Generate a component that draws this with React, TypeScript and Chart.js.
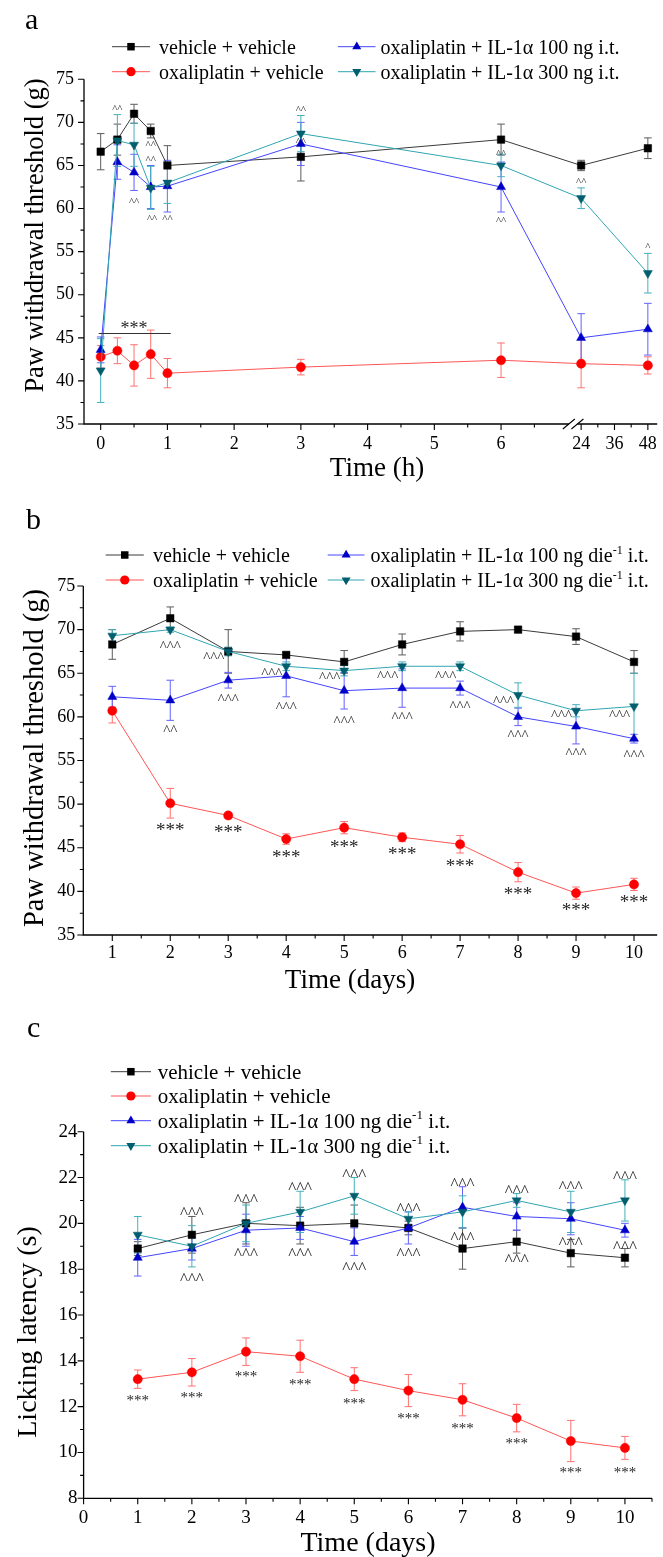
import React, { useEffect, useRef } from "react";
import { Chart, registerables } from "chart.js";

Chart.register(...registerables);

const FONT = '"Liberation Serif", "Times New Roman", Times, serif';

// ---------------- Panel a : paw withdrawal threshold vs time (h) ----------------
const hoursA = [0, 0.25, 0.5, 0.75, 1, 3, 6, 24, 48];
const vehVehA = [66.6, 68.0, 71.0, 69.0, 65.0, 66.0, 68.0, 65.0, 67.0];
const vehVehErrA = [2.1, 1.8, 1.1, 0.8, 2.3, 2.8, 1.8, 0.6, 1.2];
const oxaVehA = [42.8, 43.5, 41.8, 43.1, 40.9, 41.6, 42.4, 42.0, 41.8];
const oxaVehErrA = [1.3, 1.5, 2.4, 2.8, 1.7, 0.9, 2.0, 2.8, 1.0];
const il100A = [43.6, 65.4, 64.2, 62.5, 62.6, 67.5, 62.5, 45.0, 46.0];
const il100ErrA = [1.5, 2.0, 2.1, 2.5, 3.0, 2.5, 2.9, 2.8, 3.0];
const il300A = [41.2, 67.9, 67.4, 62.4, 63.0, 68.7, 65.0, 61.2, 52.5];
const il300ErrA = [3.7, 3.0, 2.5, 2.5, 2.4, 2.1, 1.3, 1.2, 2.3];

const xTickHoursA = [0, 1, 2, 3, 4, 5, 6, 24, 36, 48];
const xTickLabelsA = ["0", "1", "2", "3", "4", "5", "6", "24", "36", "48"];
const xMinorHoursA = [0.5, 1.5, 2.5, 3.5, 4.5, 5.5, 6.5, 30, 42];
const yTicksAB = [35, 40, 45, 50, 55, 60, 65, 70, 75];
const yMinorAB = [37.5, 42.5, 47.5, 52.5, 57.5, 62.5, 67.5, 72.5];

// annotation texts of panel a: [hour, value, text]
const annotA: [number, number, string][] = [
  [0.25, 71.8, "^^"],
  [0.75, 67.6, "^^"],
  [0.75, 65.9, "^^"],
  [0.5, 61.0, "^^"],
  [0.77, 59.1, "^^"],
  [1, 59.1, "^^"],
  [3, 71.75, "^^"],
  [3, 68.0, "^^"],
  [6, 66.6, "^^"],
  [6, 58.8, "^^"],
  [24, 63.3, "^^"],
  [48, 55.8, "^"],
];
const starsA: [number, number, string][] = [[0.5, 46.45, "***"]];
const bracketA = { from: -0.03, to: 1.05, value: 45.6 };

// ---------------- Panel b : paw withdrawal threshold vs days ----------------
const daysB = [1, 2, 3, 4, 5, 6, 7, 8, 9, 10];
const vehVehB = [68.3, 71.3, 67.5, 67.1, 66.3, 68.3, 69.8, 70.0, 69.2, 66.3];
const vehVehErrB = [1.7, 1.3, 2.5, 0.3, 1.3, 1.2, 1.1, 0.3, 0.9, 1.3];
const oxaVehB = [60.7, 50.1, 48.7, 46.0, 47.3, 46.2, 45.4, 42.2, 39.8, 40.8];
const oxaVehErrB = [1.4, 1.7, 0.3, 0.6, 0.7, 0.5, 1.0, 1.1, 0.7, 0.7];
const il100B = [62.3, 61.9, 64.2, 64.7, 63.0, 63.3, 63.3, 60.0, 58.9, 57.5];
const il100ErrB = [1.2, 2.3, 0.9, 2.4, 2.1, 2.2, 0.8, 1.0, 2.0, 0.5];
const il300B = [69.3, 70.0, 67.5, 65.8, 65.3, 65.8, 65.8, 62.5, 60.7, 61.2];
const il300ErrB = [0.7, 0.3, 0.5, 0.5, 0.6, 0.5, 0.5, 1.4, 0.7, 3.8];

const xTicksB = [1, 2, 3, 4, 5, 6, 7, 8, 9, 10];
const xMinorB = [1.5, 2.5, 3.5, 4.5, 5.5, 6.5, 7.5, 8.5, 9.5];

const annotB: [number, number, string][] = [
  [2, 68.35, "^^^"],
  [2.75, 67.09, "^^^"],
  [3.75, 65.29, "^^^"],
  [4.75, 64.79, "^^^"],
  [5.75, 64.98, "^^^"],
  [6.75, 64.98, "^^^"],
  [7.75, 62.12, "^^^"],
  [8.75, 60.47, "^^^"],
  [9.75, 60.47, "^^^"],
  [2, 58.8, "^^"],
  [3, 62.31, "^^^"],
  [4, 61.35, "^^^"],
  [5, 59.83, "^^^"],
  [6, 60.21, "^^^"],
  [7, 61.47, "^^^"],
  [8, 58.18, "^^^"],
  [9, 56.08, "^^^"],
  [10, 55.93, "^^^"],
];
const starsB: [number, number, string][] = [
  [2, 47.4, "***"],
  [3, 47.21, "***"],
  [4, 44.35, "***"],
  [5, 45.49, "***"],
  [6, 44.61, "***"],
  [7, 43.27, "***"],
  [8, 40.06, "***"],
  [9, 38.22, "***"],
  [10, 39.19, "***"],
];

// ---------------- Panel c : licking latency vs days ----------------
const daysC = [1, 2, 3, 4, 5, 6, 7, 8, 9, 10];
const vehVehC = [18.9, 19.5, 20.0, 19.9, 20.0, 19.8, 18.9, 19.2, 18.7, 18.5];
const vehVehErrC = [0.3, 0.8, 0.9, 0.8, 0.8, 0.3, 0.9, 0.5, 0.6, 0.4];
const oxaVehC = [13.2, 13.5, 14.4, 14.2, 13.2, 12.7, 12.3, 11.5, 10.5, 10.2];
const oxaVehErrC = [0.4, 0.6, 0.6, 0.7, 0.5, 0.7, 0.7, 0.6, 0.9, 0.5];
const il100C = [18.5, 18.9, 19.7, 19.8, 19.2, 19.8, 20.7, 20.3, 20.2, 19.7];
const il100ErrC = [0.8, 0.5, 0.7, 0.5, 0.6, 0.7, 0.9, 0.6, 0.7, 0.3];
const il300C = [19.5, 19.0, 20.0, 20.5, 21.2, 20.2, 20.5, 21.0, 20.5, 21.0];
const il300ErrC = [0.8, 0.9, 0.8, 0.9, 0.8, 0.3, 0.7, 0.3, 0.9, 0.9];

const xTicksC = [0, 1, 2, 3, 4, 5, 6, 7, 8, 9, 10];
const xMinorC = [0.5, 1.5, 2.5, 3.5, 4.5, 5.5, 6.5, 7.5, 8.5, 9.5, 10.5];
const yTicksC = [8, 10, 12, 14, 16, 18, 20, 22, 24];
const yMinorC = [9, 11, 13, 15, 17, 19, 21, 23];

const annotC: [number, number, string][] = [
  [2, 20.57, "^^^"],
  [3, 21.15, "^^^"],
  [4, 21.67, "^^^"],
  [5, 22.25, "^^^"],
  [6, 20.76, "^^^"],
  [7, 21.84, "^^^"],
  [8, 21.56, "^^^"],
  [9, 21.74, "^^^"],
  [10, 22.15, "^^^"],
  [2, 17.69, "^^^"],
  [3, 18.82, "^^^"],
  [4, 18.82, "^^^"],
  [5, 18.18, "^^^"],
  [6, 18.82, "^^^"],
  [7, 19.52, "^^^"],
  [8, 18.53, "^^^"],
  [9, 19.26, "^^^"],
  [10, 19.11, "^^^"],
];
const starsC: [number, number, string][] = [
  [1, 12.39, "***"],
  [2, 12.51, "***"],
  [3, 13.44, "***"],
  [4, 13.09, "***"],
  [5, 12.25, "***"],
  [6, 11.59, "***"],
  [7, 11.15, "***"],
  [8, 10.53, "***"],
  [9, 9.23, "***"],
  [10, 9.23, "***"],
];

// ---------------- Legend labels ----------------
const legendLabelsA: string[][] = [
  ["vehicle + vehicle"],
  ["oxaliplatin + vehicle"],
  ["oxaliplatin + IL-1α 100 ng i.t."],
  ["oxaliplatin + IL-1α 300 ng i.t."],
];
const legendLabelsBC: string[][] = [
  ["vehicle + vehicle"],
  ["oxaliplatin + vehicle"],
  ["oxaliplatin + IL-1α 100 ng die", "-1", " i.t."],
  ["oxaliplatin + IL-1α 300 ng die", "-1", " i.t."],
];

// ---------------- Styles ----------------
const STY = [
  { marker: "#000000", line: "#3a3a3a", err: "#5c5c5c", shape: "rect", rot: 0, r: 5.3 },
  { marker: "#ff0000", line: "#ff5555", err: "#ff7070", shape: "circle", rot: 0, r: 4.6 },
  { marker: "#0000c8", line: "#4444ff", err: "#6262ff", shape: "triangle", rot: 0, r: 5.2 },
  { marker: "#005e6e", line: "#2fa5b2", err: "#45b0bb", shape: "triangle", rot: 180, r: 5.2 },
];
const CAP = 3.8;

// broken time axis: 0-6 h linear, then 24-48 h compressed after the break
const hoursToAxis = (h: number) => (h < 24 ? h : 7.2 + (h - 24) / 24);

type Txt = { text: string; x: number; y: number; size: number };
type Spec = {
  top: number;
  height: number;
  area: { left: number; right: number; top: number; bottom: number };
  xMin: number;
  xMax: number;
  yMin: number;
  yMax: number;
  xs: number[];
  series: { values: number[]; errors: number[] }[];
  xMajor: number[];
  xLabels: string[];
  xMinor: number[];
  yMajor: number[];
  yMinor: number[];
  tickFont: number;
  xLabelPad: number;
  yLabelPad: number;
  legend: { label: string[]; x0: number; x1: number; tx: number; y: number }[];
  legendFont: number;
  annots: { x: number; y: number; text: string; size: number }[];
  bracket?: { x0: number; x1: number; y: number };
  breakAt?: number;
  xTitle: Txt;
  yTitle: Txt;
  letter: Txt;
};

function drawShape(ctx: CanvasRenderingContext2D, k: number, x: number, y: number) {
  const s = STY[k];
  ctx.fillStyle = s.marker;
  ctx.beginPath();
  if (s.shape === "rect") {
    const h = s.r * Math.SQRT1_2;
    ctx.rect(x - h, y - h, 2 * h, 2 * h);
  } else if (s.shape === "circle") {
    ctx.arc(x, y, s.r, 0, Math.PI * 2);
  } else {
    const rot = (s.rot * Math.PI) / 180;
    for (let i = 0; i < 3; i++) {
      const a = rot + (i * 2 * Math.PI) / 3;
      const px = x + Math.sin(a) * s.r;
      const py = y - Math.cos(a) * s.r;
      if (i === 0) ctx.moveTo(px, py);
      else ctx.lineTo(px, py);
    }
    ctx.closePath();
  }
  ctx.fill();
}

function decoPlugin(spec: Spec) {
  return {
    id: "deco",
    beforeDatasetsDraw(chart: any) {
      const { ctx } = chart;
      const xs = chart.scales.x;
      const ys = chart.scales.y;
      ctx.save();
      ctx.lineWidth = 1;
      spec.series.forEach((s, k) => {
        ctx.strokeStyle = STY[k].err;
        s.values.forEach((v, i) => {
          const e = s.errors[i];
          const px = xs.getPixelForValue(spec.xs[i]);
          const y1 = ys.getPixelForValue(v + e);
          const y2 = ys.getPixelForValue(v - e);
          ctx.beginPath();
          ctx.moveTo(px, y1);
          ctx.lineTo(px, y2);
          ctx.moveTo(px - CAP, y1);
          ctx.lineTo(px + CAP, y1);
          ctx.moveTo(px - CAP, y2);
          ctx.lineTo(px + CAP, y2);
          ctx.stroke();
        });
      });
      ctx.restore();
    },
    afterDatasetsDraw(chart: any) {
      const { ctx } = chart;
      const xs = chart.scales.x;
      const ys = chart.scales.y;
      ctx.save();
      ctx.fillStyle = "#262626";
      ctx.textAlign = "center";
      ctx.textBaseline = "alphabetic";
      spec.annots.forEach((a) => {
        ctx.font = `${a.size}px ${FONT}`;
        const px = xs.getPixelForValue(a.x);
        const py = ys.getPixelForValue(a.y);
        ctx.fillText(a.text, px, py + 0.48 * a.size);
      });
      if (spec.bracket) {
        ctx.strokeStyle = "#333";
        ctx.lineWidth = 1;
        const py = Math.round(ys.getPixelForValue(spec.bracket.y)) + 0.5;
        ctx.beginPath();
        ctx.moveTo(xs.getPixelForValue(spec.bracket.x0), py);
        ctx.lineTo(xs.getPixelForValue(spec.bracket.x1), py);
        ctx.stroke();
      }
      ctx.restore();
    },
    afterDraw(chart: any) {
      const { ctx, chartArea } = chart;
      const xs = chart.scales.x;
      const ys = chart.scales.y;
      const { left, right, top, bottom } = chartArea;
      ctx.save();
      ctx.strokeStyle = "#000";
      ctx.lineWidth = 1.3;
      ctx.beginPath();
      ctx.moveTo(left, top);
      ctx.lineTo(left, bottom);
      ctx.lineTo(right, bottom);
      ctx.stroke();
      ctx.lineWidth = 1.1;
      ctx.beginPath();
      spec.yMajor.forEach((v) => {
        const p = ys.getPixelForValue(v);
        ctx.moveTo(left, p);
        ctx.lineTo(left - 6, p);
      });
      spec.yMinor.forEach((v) => {
        const p = ys.getPixelForValue(v);
        ctx.moveTo(left, p);
        ctx.lineTo(left - 3.5, p);
      });
      spec.xMajor.forEach((v) => {
        const p = xs.getPixelForValue(v);
        ctx.moveTo(p, bottom);
        ctx.lineTo(p, bottom + 6);
      });
      spec.xMinor.forEach((v) => {
        const p = xs.getPixelForValue(v);
        ctx.moveTo(p, bottom);
        ctx.lineTo(p, bottom + 3.5);
      });
      ctx.stroke();

      if (spec.breakAt !== undefined) {
        const p = xs.getPixelForValue(spec.breakAt);
        ctx.fillStyle = "#fff";
        ctx.fillRect(p - 4.3, bottom - 2, 8.6, 4);
        ctx.lineWidth = 1.1;
        ctx.beginPath();
        [-4.3, 4.3].forEach((d) => {
          ctx.moveTo(p + d - 6, bottom + 5);
          ctx.lineTo(p + d + 6, bottom - 5);
        });
        ctx.stroke();
      }

      // legend
      spec.legend.forEach((item, k) => {
        ctx.strokeStyle = STY[k].line;
        ctx.lineWidth = 1;
        ctx.beginPath();
        ctx.moveTo(item.x0, item.y);
        ctx.lineTo(item.x1, item.y);
        ctx.stroke();
        drawShape(ctx, k, (item.x0 + item.x1) / 2, item.y);
        ctx.fillStyle = "#000";
        ctx.textAlign = "left";
        ctx.textBaseline = "alphabetic";
        let x = item.tx;
        const base = item.y + 7;
        item.label.forEach((part, j) => {
          const sup = j === 1;
          const size = sup ? Math.round(spec.legendFont * 0.6) : spec.legendFont;
          ctx.font = `${size}px ${FONT}`;
          ctx.fillText(part, x, sup ? base - spec.legendFont * 0.42 : base);
          x += ctx.measureText(part).width;
        });
      });

      // axis titles and panel letter
      ctx.fillStyle = "#000";
      ctx.textBaseline = "alphabetic";
      ctx.textAlign = "center";
      ctx.font = `${spec.xTitle.size}px ${FONT}`;
      ctx.fillText(spec.xTitle.text, spec.xTitle.x, spec.xTitle.y);
      ctx.save();
      ctx.translate(spec.yTitle.x, spec.yTitle.y);
      ctx.rotate(-Math.PI / 2);
      ctx.font = `${spec.yTitle.size}px ${FONT}`;
      ctx.fillText(spec.yTitle.text, 0, 0);
      ctx.restore();
      ctx.textAlign = "left";
      ctx.font = `${spec.letter.size}px ${FONT}`;
      ctx.fillText(spec.letter.text, spec.letter.x, spec.letter.y);
      ctx.restore();
    },
  };
}

function buildConfig(spec: Spec): any {
  const datasets = spec.series.map((s, k) => ({
    label: spec.legend[k].label.join(""),
    data: spec.xs.map((x, i) => ({ x, y: s.values[i] })),
    borderColor: STY[k].line,
    backgroundColor: STY[k].marker,
    borderWidth: 1,
    pointStyle: STY[k].shape,
    pointRotation: STY[k].rot,
    pointRadius: STY[k].r,
    pointBackgroundColor: STY[k].marker,
    pointBorderColor: STY[k].marker,
    pointBorderWidth: 0.5,
    tension: 0,
    order: 4 - k,
    clip: false,
  }));
  const labelOf = (v: number) => {
    const i = spec.xMajor.findIndex((m) => Math.abs(m - v) < 1e-6);
    return i >= 0 ? spec.xLabels[i] : "";
  };
  const a = spec.area;
  return {
    type: "line",
    data: { datasets },
    plugins: [decoPlugin(spec)],
    options: {
      responsive: false,
      animation: false,
      devicePixelRatio: 1,
      layout: { padding: { left: 0, bottom: 0, top: a.top, right: 663 - a.right } },
      plugins: {
        legend: { display: false },
        tooltip: { enabled: false },
        title: { display: false },
      },
      scales: {
        x: {
          type: "linear",
          min: spec.xMin,
          max: spec.xMax,
          grid: { display: false, drawTicks: false },
          border: { display: false },
          ticks: {
            font: { family: FONT, size: spec.tickFont },
            color: "#000",
            padding: spec.xLabelPad,
            autoSkip: false,
            maxRotation: 0,
            callback: (v: number) => labelOf(v),
          },
          afterBuildTicks: (s: any) => {
            s.ticks = spec.xMajor.map((v) => ({ value: v }));
          },
          afterFit: (s: any) => {
            s.height = spec.height - a.bottom;
            s.paddingLeft = 0;
            s.paddingRight = 0;
          },
        },
        y: {
          type: "linear",
          min: spec.yMin,
          max: spec.yMax,
          grid: { display: false, drawTicks: false },
          border: { display: false },
          ticks: {
            font: { family: FONT, size: spec.tickFont },
            color: "#000",
            padding: spec.yLabelPad,
            autoSkip: false,
            callback: (v: number) => String(v),
          },
          afterBuildTicks: (s: any) => {
            s.ticks = spec.yMajor.map((v) => ({ value: v }));
          },
          afterFit: (s: any) => {
            s.width = a.left;
            s.paddingTop = 0;
            s.paddingBottom = 0;
          },
        },
      },
    },
  };
}

const toAnnots = (list: [number, number, string][], size: number, mapX = (x: number) => x) =>
  list.map(([x, y, text]) => ({ x: mapX(x), y, text, size }));

const specA: Spec = {
  top: 0,
  height: 505,
  area: { left: 84, right: 662, top: 79.3, bottom: 424 },
  xMin: -0.25,
  xMax: 8.34,
  yMin: 35,
  yMax: 75,
  xs: hoursA.map(hoursToAxis),
  series: [
    { values: vehVehA, errors: vehVehErrA },
    { values: oxaVehA, errors: oxaVehErrA },
    { values: il100A, errors: il100ErrA },
    { values: il300A, errors: il300ErrA },
  ],
  xMajor: xTickHoursA.map(hoursToAxis),
  xLabels: xTickLabelsA,
  xMinor: xMinorHoursA.map(hoursToAxis),
  yMajor: yTicksAB,
  yMinor: yMinorAB,
  tickFont: 18,
  xLabelPad: 9,
  yLabelPad: 10,
  legend: [
    { label: legendLabelsA[0], x0: 112, x1: 150, tx: 159, y: 46.7 },
    { label: legendLabelsA[1], x0: 112, x1: 150, tx: 159, y: 71.7 },
    { label: legendLabelsA[2], x0: 338, x1: 375.5, tx: 380.5, y: 46.7 },
    { label: legendLabelsA[3], x0: 338, x1: 375.5, tx: 380.5, y: 71.7 },
  ],
  legendFont: 20,
  annots: [...toAnnots(annotA, 11, hoursToAxis), ...toAnnots(starsA, 18, hoursToAxis)],
  bracket: { x0: bracketA.from, x1: bracketA.to, y: bracketA.value },
  breakAt: 7.08,
  xTitle: { text: "Time (h)", x: 377, y: 476, size: 27 },
  yTitle: { text: "Paw withdrawal threshold (g)", x: 43, y: 235.5, size: 26.5 },
  letter: { text: "a", x: 25, y: 29, size: 30 },
};

const specB: Spec = {
  top: 505,
  height: 510,
  area: { left: 83.3, right: 662.4, top: 81, bottom: 430 },
  xMin: 0.5,
  xMax: 10.4,
  yMin: 35,
  yMax: 75,
  xs: daysB,
  series: [
    { values: vehVehB, errors: vehVehErrB },
    { values: oxaVehB, errors: oxaVehErrB },
    { values: il100B, errors: il100ErrB },
    { values: il300B, errors: il300ErrB },
  ],
  xMajor: xTicksB,
  xLabels: xTicksB.map(String),
  xMinor: xMinorB,
  yMajor: yTicksAB,
  yMinor: yMinorAB,
  tickFont: 18,
  xLabelPad: 7.5,
  yLabelPad: 8,
  legend: [
    { label: legendLabelsBC[0], x0: 105.7, x1: 143.8, tx: 153, y: 50 },
    { label: legendLabelsBC[1], x0: 105.7, x1: 143.8, tx: 153, y: 75 },
    { label: legendLabelsBC[2], x0: 327.7, x1: 364.5, tx: 370.4, y: 50 },
    { label: legendLabelsBC[3], x0: 327.7, x1: 364.5, tx: 370.4, y: 75 },
  ],
  legendFont: 20,
  annots: [...toAnnots(annotB, 15), ...toAnnots(starsB, 19)],
  xTitle: { text: "Time (days)", x: 350, y: 483, size: 27 },
  yTitle: { text: "Paw withdrawal threshold (g)", x: 43, y: 253, size: 28.5 },
  letter: { text: "b", x: 26, y: 24, size: 30 },
};

const specC: Spec = {
  top: 1015,
  height: 542,
  area: { left: 83.6, right: 652, top: 116.7, bottom: 483.3 },
  xMin: 0,
  xMax: 10.5,
  yMin: 8,
  yMax: 24,
  xs: daysC,
  series: [
    { values: vehVehC, errors: vehVehErrC },
    { values: oxaVehC, errors: oxaVehErrC },
    { values: il100C, errors: il100ErrC },
    { values: il300C, errors: il300ErrC },
  ],
  xMajor: xTicksC,
  xLabels: xTicksC.map(String),
  xMinor: xMinorC,
  yMajor: yTicksC,
  yMinor: yMinorC,
  tickFont: 19,
  xLabelPad: 8,
  yLabelPad: 6,
  legend: [
    { label: legendLabelsBC[0], x0: 110.8, x1: 151, tx: 157.7, y: 56.7 },
    { label: legendLabelsBC[1], x0: 110.8, x1: 151, tx: 157.7, y: 81 },
    { label: legendLabelsBC[2], x0: 110.8, x1: 151, tx: 157.7, y: 105.7 },
    { label: legendLabelsBC[3], x0: 110.8, x1: 151, tx: 157.7, y: 130.7 },
  ],
  legendFont: 21,
  annots: [...toAnnots(annotC, 17), ...toAnnots(starsC, 15)],
  xTitle: { text: "Time (days)", x: 368, y: 536, size: 28 },
  yTitle: { text: "Licking latency (s)", x: 36, y: 317, size: 28 },
  letter: { text: "c", x: 27, y: 22, size: 30 },
};

function Panel({ spec }: { spec: Spec }) {
  const ref = useRef<HTMLCanvasElement | null>(null);
  useEffect(() => {
    if (!ref.current) return;
    const chart = new Chart(ref.current, buildConfig(spec));
    return () => chart.destroy();
  }, [spec]);
  return (
    <canvas
      ref={ref}
      width={663}
      height={spec.height}
      style={{ position: "absolute", left: 0, top: spec.top, display: "block" }}
    />
  );
}

export default function App() {
  return (
    <div
      style={{
        position: "absolute",
        left: 0,
        top: 0,
        width: 663,
        height: 1557,
        background: "#ffffff",
        overflow: "hidden",
      }}
    >
      <Panel spec={specA} />
      <Panel spec={specB} />
      <Panel spec={specC} />
    </div>
  );
}
